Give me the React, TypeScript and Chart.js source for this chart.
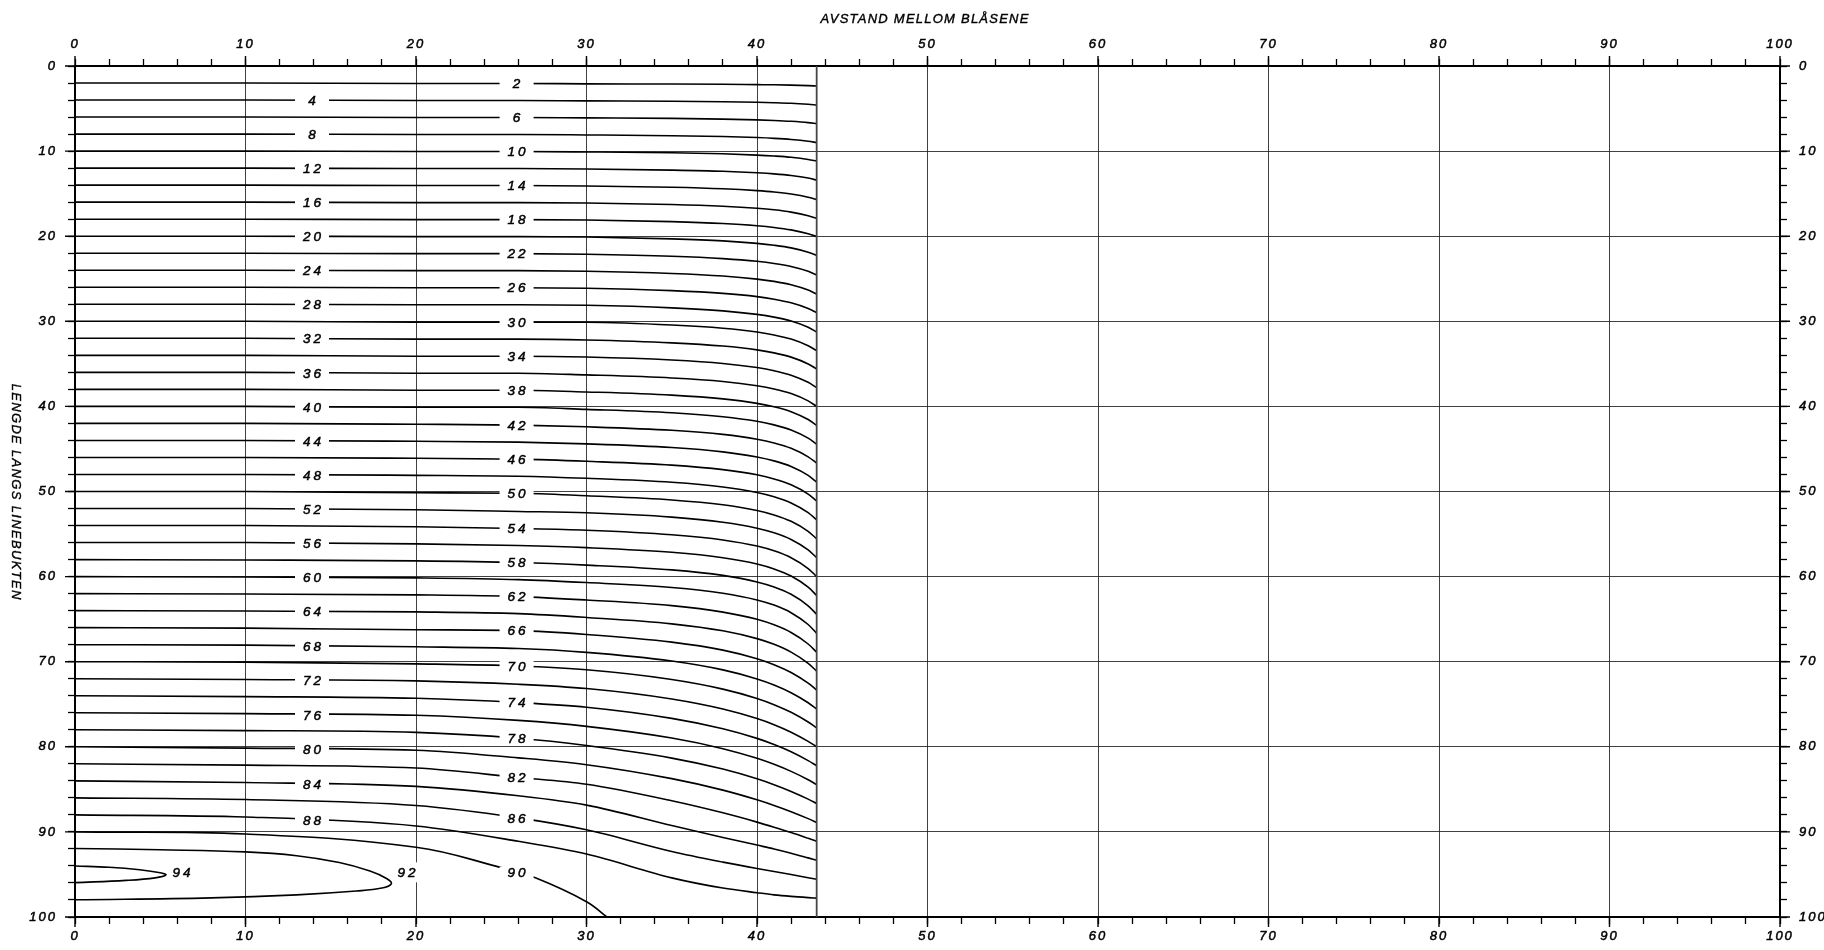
import React, { useEffect, useRef } from 'react';
import { Chart, registerables } from 'chart.js';

Chart.register(...registerables);

// ---------- text ----------
const xTitle = 'AVSTAND MELLOM BLÅSENE';
const yTitle = 'LENGDE LANGS LINEBUKTEN';

// ---------- axes ----------
const axisMin = 0;
const axisMax = 100;
const minorStep = 2;
const majorTickValues = [0, 10, 20, 30, 40, 50, 60, 70, 80, 90, 100];

// ---------- contour data ----------
// x positions (AVSTAND) at which each contour's y (LENGDE) was read
const sampleX = [0, 10, 20, 26, 30, 35, 38, 40, 41, 42, 43, 43.5];
const contourLevels = [
  2, 4, 6, 8, 10, 12, 14, 16, 18, 20, 22, 24, 26, 28, 30, 32, 34, 36, 38, 40, 42, 44,
  46, 48, 50, 52, 54, 56, 58, 60, 62, 64, 66, 68, 70, 72, 74, 76, 78, 80, 82, 84, 86, 88,
];
const contourY = [
  [2, 2, 2.05, 2.05, 2.1, 2.12, 2.15, 2.19, 2.21, 2.25, 2.31, 2.35],
  [4, 4, 4.05, 4.05, 4.1, 4.15, 4.2, 4.26, 4.31, 4.38, 4.5, 4.58],
  [6, 6, 6.05, 6.05, 6.1, 6.16, 6.24, 6.33, 6.4, 6.5, 6.65, 6.77],
  [8, 8, 8.05, 8.05, 8.1, 8.19, 8.29, 8.41, 8.5, 8.63, 8.84, 9.0],
  [10, 10, 10.05, 10.05, 10.1, 10.2, 10.32, 10.47, 10.58, 10.73, 10.98, 11.17],
  [12, 12, 12.05, 12.05, 12.1, 12.23, 12.37, 12.55, 12.68, 12.87, 13.17, 13.4],
  [14, 14, 14.05, 14.05, 14.1, 14.25, 14.43, 14.65, 14.81, 15.05, 15.42, 15.7],
  [16, 16, 16.05, 16.05, 16.1, 16.27, 16.48, 16.72, 16.9, 17.17, 17.59, 17.9],
  [18, 18, 18.05, 18.05, 18.1, 18.29, 18.51, 18.77, 18.97, 19.26, 19.71, 20.05],
  [20, 20, 20.05, 20.05, 20.1, 20.31, 20.55, 20.84, 21.06, 21.37, 21.88, 22.25],
  [22, 22, 22.05, 22.05, 22.12, 22.35, 22.63, 22.95, 23.2, 23.56, 24.13, 24.55],
  [24, 24, 24.05, 24.05, 24.12, 24.38, 24.68, 25.04, 25.31, 25.71, 26.33, 26.8],
  [26, 26, 26.05, 26.05, 26.12, 26.4, 26.72, 27.1, 27.4, 27.83, 28.5, 29.0],
  [28, 28, 28.05, 28.05, 28.12, 28.42, 28.77, 29.19, 29.51, 29.97, 30.7, 31.25],
  [30, 30, 30.1, 30.1, 30.12, 30.44, 30.82, 31.26, 31.6, 32.09, 32.87, 33.45],
  [32, 32, 32.1, 32.1, 32.2, 32.53, 32.91, 33.36, 33.71, 34.21, 35.01, 35.6],
  [34, 34, 34.1, 34.1, 34.2, 34.55, 34.95, 35.43, 35.8, 36.33, 37.17, 37.8],
  [36, 36, 36.1, 36.1, 36.3, 36.66, 37.07, 37.57, 37.95, 38.49, 39.35, 40.0],
  [38, 38, 38.1, 38.1, 38.3, 38.68, 39.12, 39.64, 40.04, 40.62, 41.54, 42.22],
  [40, 40, 40.1, 40.1, 40.35, 40.75, 41.21, 41.75, 42.17, 42.77, 43.73, 44.44],
  [42, 42, 42.1, 42.2, 42.4, 42.81, 43.29, 43.86, 44.3, 44.93, 45.93, 46.67],
  [44, 44, 44.1, 44.2, 44.4, 44.83, 45.34, 45.94, 46.4, 47.06, 48.11, 48.89],
  [46, 46, 46.1, 46.2, 46.45, 46.9, 47.43, 48.04, 48.52, 49.21, 50.3, 51.11],
  [48, 48, 48.1, 48.2, 48.45, 48.92, 49.47, 50.12, 50.62, 51.34, 52.48, 53.33],
  [50, 50, 50.15, 50.2, 50.5, 50.99, 51.56, 52.23, 52.75, 53.5, 54.68, 55.56],
  [52, 52, 52.15, 52.35, 52.5, 53.01, 53.61, 54.31, 54.85, 55.63, 56.86, 57.78],
  [54, 54, 54.15, 54.35, 54.55, 55.08, 55.69, 56.41, 56.97, 57.78, 59.05, 60.0],
  [56, 56, 56.15, 56.35, 56.6, 57.14, 57.78, 58.52, 59.1, 59.93, 61.24, 62.22],
  [58, 58.05, 58.15, 58.35, 58.65, 59.21, 59.86, 60.63, 61.22, 62.08, 63.43, 64.44],
  [60, 60.05, 60.15, 60.35, 60.7, 61.28, 61.95, 62.74, 63.35, 64.24, 65.63, 66.67],
  [62, 62.05, 62.15, 62.35, 62.75, 63.41, 64.17, 65.02, 65.67, 66.57, 67.92, 68.89],
  [64, 64.05, 64.15, 64.35, 64.8, 65.55, 66.37, 67.29, 67.96, 68.88, 70.2, 71.11],
  [66, 66.05, 66.25, 66.35, 66.8, 67.7, 68.64, 69.65, 70.35, 71.27, 72.52, 73.33],
  [68, 68.05, 68.25, 68.45, 68.9, 69.92, 70.96, 72.02, 72.73, 73.64, 74.82, 75.56],
  [70, 70.05, 70.25, 70.5, 70.95, 72.09, 73.22, 74.32, 75.05, 75.95, 77.09, 77.78],
  [72, 72.1, 72.25, 72.65, 73.15, 74.38, 75.56, 76.68, 77.4, 78.28, 79.36, 80.0],
  [74, 74.1, 74.3, 74.8, 75.35, 76.66, 77.88, 79.01, 79.73, 80.58, 81.62, 82.22],
  [76, 76.1, 76.3, 76.9, 77.6, 78.97, 80.22, 81.35, 82.06, 82.89, 83.87, 84.44],
  [78, 78.1, 78.3, 79.0, 79.85, 81.33, 82.62, 83.76, 84.45, 85.24, 86.15, 86.67],
  [80, 80.15, 80.4, 81.3, 82.1, 83.74, 85.09, 86.23, 86.89, 87.62, 88.44, 88.89],
  [82, 82.15, 82.5, 83.6, 84.4, 86.34, 87.76, 88.85, 89.45, 90.08, 90.76, 91.11],
  [84, 84.2, 84.65, 85.75, 86.85, 89.25, 90.65, 91.55, 92.0, 92.5, 93.05, 93.33],
  [86, 86.2, 86.9, 88.35, 89.75, 92.3, 93.55, 94.3, 94.65, 95.0, 95.38, 95.56],
  [88, 88.25, 89.3, 91.1, 92.6, 95.4, 96.6, 97.15, 97.4, 97.58, 97.72, 97.78],
];

// level 90 runs from the left edge down to the bottom edge
const level90X = [0, 10, 20, 25, 27, 30, 31.2];
const level90Y = [90, 90.25, 91.8, 94.2, 95.4, 98.2, 100];

// closed loops 92 and 94 against the left edge
const loop92X = [0, 5, 10, 13, 15.5, 17.3, 18.3, 18.55, 18.0, 16.5, 13, 8, 0];
const loop92Y = [91.95, 92.1, 92.35, 92.8, 93.6, 94.6, 95.5, 96.1, 96.6, 96.95, 97.4, 97.75, 97.98];
const loop94X = [0, 2, 3.8, 5.0, 5.33, 4.7, 3, 0];
const loop94Y = [94.0, 94.15, 94.45, 94.8, 95.05, 95.4, 95.7, 95.96];

// right boundary of the computed field
const boundaryX = [43.5, 43.5];
const boundaryY = [0, 100];

// contour labels
const labelText = [
  '2', '4', '6', '8', '10', '12', '14', '16', '18', '20', '22', '24', '26', '28', '30', '32',
  '34', '36', '38', '40', '42', '44', '46', '48', '50', '52', '54', '56', '58', '60', '62', '64',
  '66', '68', '70', '72', '74', '76', '78', '80', '82', '84', '86', '88', '90', '92', '94',
];
const labelX = [
  25.9, 13.9, 25.9, 13.9, 25.9, 13.9, 25.9, 13.9, 25.9, 13.9, 25.9, 13.9, 25.9, 13.9, 25.9, 13.9,
  25.9, 13.9, 25.9, 13.9, 25.9, 13.9, 25.9, 13.9, 25.9, 13.9, 25.9, 13.9, 25.9, 13.9, 25.9, 13.9,
  25.9, 13.9, 25.9, 13.9, 25.9, 13.9, 25.9, 13.9, 25.9, 13.9, 25.9, 13.9, 25.9, 19.45, 6.25,
];
const labelY = [
  2.05, 4.0, 6.05, 8.0, 10.05, 12.0, 14.05, 16.0, 18.05, 20.0, 22.05, 24.05, 26.05, 28.05, 30.1, 32.05,
  34.1, 36.05, 38.1, 40.05, 42.2, 44.05, 46.2, 48.1, 50.2, 52.1, 54.35, 56.1, 58.35, 60.1, 62.35, 64.1,
  66.35, 68.15, 70.5, 72.2, 74.8, 76.25, 79.0, 80.3, 83.6, 84.35, 88.35, 88.65, 94.8, 94.75, 94.75,
];

// ---------- styling ----------
const FONT_FAMILY = "'Liberation Sans Narrow', 'Liberation Sans', Arial, sans-serif";
const INK = '#000';
const GRID = 'rgba(30,30,30,0.85)';

const linePts = (xs: number[], ys: number[]) => xs.map((x, i) => ({ x, y: ys[i] }));

const fixSize = (prop: 'width' | 'height', v: number) => (scale: any) => {
  scale[prop] = v;
};

function makeScale(position: string, padding: number, showGrid: boolean, sizeProp: 'width' | 'height', size: number) {
  return {
    type: 'linear',
    position,
    min: axisMin,
    max: axisMax,
    reverse: position === 'left' || position === 'right',
    afterFit: fixSize(sizeProp, size),
    ticks: {
      stepSize: minorStep,
      autoSkip: false,
      maxRotation: 0,
      minRotation: 0,
      color: INK,
      padding,
      textStrokeColor: INK,
      textStrokeWidth: 0.5,
      font: { family: FONT_FAMILY, size: 13, style: 'italic' },
      callback: (v: any) => (Number(v) % 10 === 0 ? String(v) : ''),
    },
    grid: {
      display: true,
      drawOnChartArea: showGrid,
      color: (ctx: any) => {
        const v = ctx.tick ? ctx.tick.value : 0;
        return showGrid && v % 10 === 0 ? GRID : 'rgba(0,0,0,0)';
      },
      lineWidth: 1,
      drawTicks: true,
      tickLength: 7,
      tickColor: INK,
      tickWidth: 1.3,
    },
    border: { display: true, color: INK, width: 2 },
  };
}

const letterSpacingPlugin = {
  id: 'letterSpacing',
  beforeDraw(chart: any) {
    chart.ctx.letterSpacing = '2px';
  },
};

const majorTickPlugin = {
  id: 'majorTicks',
  afterDraw(chart: any) {
    const { ctx, chartArea: a, scales } = chart;
    ctx.save();
    ctx.strokeStyle = INK;
    ctx.lineWidth = 1.4;
    ctx.beginPath();
    for (const v of majorTickValues) {
      const px = scales.x.getPixelForValue(v);
      ctx.moveTo(px, a.bottom);
      ctx.lineTo(px, a.bottom + 10);
      const px2 = scales.x2.getPixelForValue(v);
      ctx.moveTo(px2, a.top);
      ctx.lineTo(px2, a.top - 10);
      const py = scales.y.getPixelForValue(v);
      ctx.moveTo(a.left, py);
      ctx.lineTo(a.left - 10, py);
      const py2 = scales.y2.getPixelForValue(v);
      ctx.moveTo(a.right, py2);
      ctx.lineTo(a.right + 10, py2);
    }
    ctx.stroke();
    ctx.restore();
  },
};

const contourLabelPlugin = {
  id: 'contourLabels',
  afterDatasetsDraw(chart: any) {
    const { ctx, scales } = chart;
    ctx.save();
    ctx.font = `italic 13.5px ${FONT_FAMILY}`;
    ctx.letterSpacing = '3px';
    ctx.textAlign = 'center';
    ctx.textBaseline = 'middle';
    ctx.lineWidth = 0.5;
    ctx.strokeStyle = INK;
    labelText.forEach((t, i) => {
      const px = scales.x.getPixelForValue(labelX[i]);
      const py = scales.y.getPixelForValue(labelY[i]);
      const tw = ctx.measureText(t).width;
      const loopLabel = t === '92' || t === '94';
      const w = loopLabel ? tw + 4 : 34;
      const h = t === '92' ? 20 : 12;
      ctx.fillStyle = '#fff';
      ctx.fillRect(px - w / 2, py - h / 2, w, h);
      ctx.fillStyle = INK;
      ctx.fillText(t, px + 1.5, py + 1);
      ctx.strokeText(t, px + 1.5, py + 1);
    });
    ctx.restore();
  },
};

function drawSpaced(ctx: any, text: string, targetWidth: number) {
  ctx.letterSpacing = '0px';
  const w = ctx.measureText(text).width;
  const sp = Math.max(0, (targetWidth - w) / text.length);
  ctx.letterSpacing = `${sp}px`;
  ctx.fillText(text, sp / 2, 0);
  ctx.strokeText(text, sp / 2, 0);
}

const titlePlugin = {
  id: 'axisTitles',
  afterDraw(chart: any) {
    const { ctx, chartArea: a } = chart;
    ctx.save();
    ctx.fillStyle = INK;
    ctx.strokeStyle = INK;
    ctx.lineWidth = 0.4;
    ctx.font = `italic 13px ${FONT_FAMILY}`;
    ctx.textAlign = 'center';
    ctx.textBaseline = 'middle';
    ctx.save();
    ctx.translate((a.left + a.right) / 2 - 3, 19);
    drawSpaced(ctx, xTitle, 209);
    ctx.restore();
    ctx.translate(16, (a.top + a.bottom) / 2);
    ctx.rotate(Math.PI / 2);
    drawSpaced(ctx, yTitle, 217);
    ctx.restore();
  },
};

export default function App() {
  const ref = useRef<HTMLCanvasElement | null>(null);

  useEffect(() => {
    if (!ref.current) return;
    const lineStyle = {
      borderColor: INK,
      borderWidth: 1.6,
      pointRadius: 0,
      showLine: true,
      fill: false,
    };
    const datasets: any[] = [
      {
        ...lineStyle,
        data: linePts(boundaryX, boundaryY),
        borderColor: 'rgba(70,70,70,1)',
        borderWidth: 1.8,
      },
      ...contourLevels.map((lvl, i) => ({
        ...lineStyle,
        label: String(lvl),
        data: linePts(sampleX, contourY[i]),
        cubicInterpolationMode: 'monotone',
      })),
      {
        ...lineStyle,
        label: '90',
        data: linePts(level90X, level90Y),
        tension: 0.4,
      },
      { ...lineStyle, label: '92', data: linePts(loop92X, loop92Y), tension: 0.4 },
      { ...lineStyle, label: '94', data: linePts(loop94X, loop94Y), tension: 0.4 },
    ];

    const chart = new Chart(ref.current, {
      type: 'scatter',
      data: { datasets },
      options: {
        animation: false,
        responsive: false,
        maintainAspectRatio: false,
        devicePixelRatio: 1,
        layout: { padding: 0 },
        plugins: { legend: { display: false }, tooltip: { enabled: false } },
        scales: {
          x: makeScale('bottom', 5, true, 'height', 33),
          x2: makeScale('top', 7, false, 'height', 66),
          y: makeScale('left', 11, true, 'width', 75),
          y2: makeScale('right', 12, false, 'width', 44),
        } as any,
      },
      plugins: [letterSpacingPlugin, majorTickPlugin, contourLabelPlugin, titlePlugin],
    } as any);
    return () => chart.destroy();
  }, []);

  return (
    <div style={{ position: 'fixed', left: 0, top: 0, width: 1824, height: 950, background: '#fff' }}>
      <canvas ref={ref} width={1824} height={950} style={{ width: 1824, height: 950, display: 'block' }} />
    </div>
  );
}
